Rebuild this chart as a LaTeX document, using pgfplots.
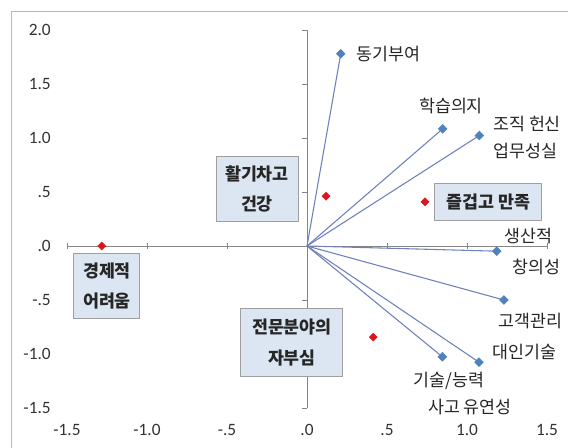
\documentclass[border=0pt]{standalone}
\usepackage{fontspec}
\setmainfont{Noto Sans CJK KR}
\newfontfamily\tickfont{Carlito}
\usepackage{pgfplots}
\pgfplotsset{compat=1.18}
\definecolor{ptblue}{RGB}{79,129,189}
\definecolor{ptred}{RGB}{225,20,30}
\definecolor{vline}{RGB}{112,128,188}
\definecolor{boxfill}{RGB}{220,230,242}
\definecolor{axgray}{RGB}{134,134,134}
\tikzset{
  lbl/.style={font=\fontsize{13}{15}\selectfont, inner sep=0pt, text=black!85},
  bx/.style={draw=gray!75, line width=0.75pt, fill=boxfill, font=\bfseries\fontsize{13}{23}\selectfont, align=center, inner sep=0pt, text=black!85},
}
\begin{document}
\begin{tikzpicture}
\useasboundingbox (-50.25pt,-29.25pt) rectangle (375.75pt,306pt);
\fill[white] (-50.25pt,-29.25pt) rectangle (375.75pt,306pt);
\begin{axis}[
  at={(0,0)}, anchor=south west, scale only axis,
  width=360pt, height=283.5pt,
  xmin=-1.5, xmax=1.5, ymin=-1.5, ymax=2,
  axis line style={draw=none}, major tick length=0pt, tick style={draw=none},
  xtick={-1.5,-1,-0.5,0,0.5,1,1.5},
  xticklabels={-1.5,-1.0,-.5,.0,.5,1.0,1.5},
  ytick={-1.5,-1,-0.5,0,0.5,1,1.5,2},
  yticklabels={-1.5,-1.0,-.5,.0,.5,1.0,1.5,2.0},
  ticklabel style={font=\tickfont\fontsize{13}{15}\selectfont, text=black!80, inner sep=0pt},
  xticklabel style={anchor=north, yshift=-12pt},
  yticklabel style={anchor=east, xshift=-12pt},
  clip=false,
]
% zero axes
\draw[axgray, line width=0.75pt] (axis cs:-1.5,0) -- (axis cs:1.5,0);
\draw[axgray, line width=0.75pt] (axis cs:0,-1.5) -- (axis cs:0,2);
\pgfplotsinvokeforeach{-1.5,-1,-0.5,0.5,1,1.5}{\draw[axgray, line width=0.6pt] (axis cs:#1,0) ++(0pt,-2.25pt) -- ++(0pt,4.5pt);}
\pgfplotsinvokeforeach{-1.5,-1,-0.5,0.5,1,1.5,2}{\draw[axgray, line width=0.6pt] (axis cs:0,#1) -- ++(-3.75pt,0pt);}
% vectors
\addplot[vline, line width=0.8pt] coordinates {(0,0) (0.211,1.78)};
\addplot[vline, line width=0.8pt] coordinates {(0,0) (0.848,1.085)};
\addplot[vline, line width=0.8pt] coordinates {(0,0) (1.077,1.023)};
\addplot[vline, line width=0.8pt] coordinates {(0,0) (1.186,-0.048)};
\addplot[vline, line width=0.8pt] coordinates {(0,0) (1.231,-0.50)};
\addplot[vline, line width=0.8pt] coordinates {(0,0) (0.846,-1.026)};
\addplot[vline, line width=0.8pt] coordinates {(0,0) (1.075,-1.076)};
% blue points
\addplot[only marks, mark=square*, mark size=2.3pt, mark options={rotate=45, fill=ptblue, draw=ptblue}]
  coordinates {(0.211,1.78) (0.848,1.085) (1.077,1.023) (1.186,-0.048) (1.231,-0.50) (0.846,-1.026) (1.075,-1.076)};
% red points
\addplot[only marks, mark=square*, mark size=2.1pt, mark options={rotate=45, fill=ptred, draw=ptred}]
  coordinates {(0.119,0.461) (0.7375,0.409) (-1.283,0.0) (0.414,-0.844)};
% boxes
\node[bx, minimum width=61.5pt, minimum height=48.75pt] at (axis cs:-0.3125,0.528) {활기차고\\건강};
\node[bx, minimum width=49.5pt, minimum height=48.75pt] at (axis cs:-1.25,-0.37) {경제적\\어려움};
\node[bx, minimum width=76.5pt, minimum height=51pt] at (axis cs:-0.094,-0.894) {전문분야의\\자부심};
\node[bx, minimum width=80.25pt, minimum height=27.75pt] at (axis cs:1.134,0.407) {즐겁고 만족};
% labels
\node[lbl, anchor=west] at (axis cs:0.306,1.782) {동기부여};
\node[lbl] at (axis cs:0.9,1.292) {학습의지};
\node[lbl, anchor=west] at (axis cs:1.1625,1.125) {조직 헌신};
\node[lbl, anchor=west] at (axis cs:1.1625,0.878) {업무성실};
\node[lbl] at (axis cs:1.384,0.088) {생산적};
\node[lbl] at (axis cs:1.434,-0.19) {창의성};
\node[lbl, anchor=west] at (axis cs:1.194,-0.695) {고객관리};
\node[lbl, anchor=west] at (axis cs:1.156,-0.986) {대인기술};
\node[lbl] at (axis cs:0.8875,-1.252) {기술/능력};
\node[lbl] at (axis cs:1.019,-1.495) {사고 유연성};
\end{axis}
\draw[gray!55, line width=0.75pt] (-41.25pt,-40pt) -- (-41.25pt,297pt) -- (400pt,297pt);
\end{tikzpicture}
\end{document}
